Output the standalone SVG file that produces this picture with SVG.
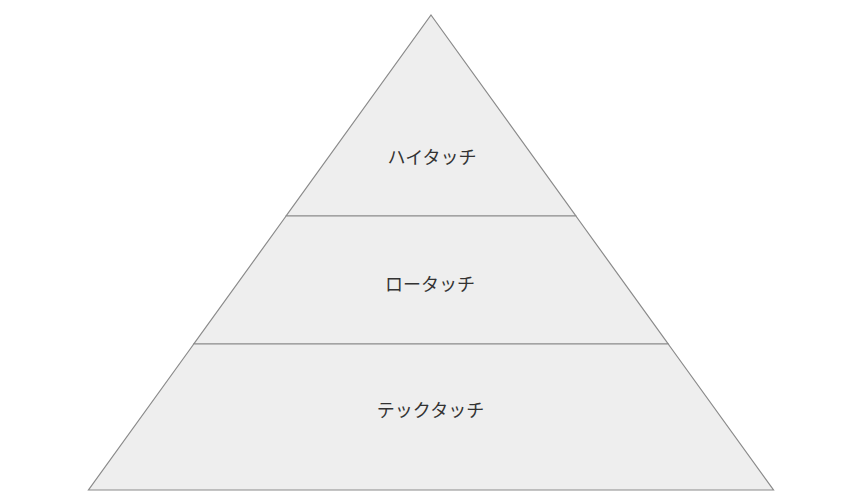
<svg xmlns="http://www.w3.org/2000/svg" width="855" height="502" viewBox="0 0 855 502">
<style>
.tier{fill:#eeeeee;stroke:#8a8a8a;stroke-width:1.2;stroke-linejoin:miter}
.lbl{font-family:"Noto Sans CJK JP","Noto Sans",sans-serif;font-size:18px;fill:#333333;text-anchor:middle}
</style>
<rect width="855" height="502" fill="#ffffff"/>
<g id="tier-high">
<polygon class="tier" points="431,15 575.9,216 286.1,216"/>
<text class="lbl" x="432" y="164">ハイタッチ</text>
</g>
<g id="tier-low">
<polygon class="tier" points="286.1,216 575.9,216 668.2,344 193.8,344"/>
<text class="lbl" x="430" y="290.5">ロータッチ</text>
</g>
<g id="tier-tech">
<polygon class="tier" points="193.8,344 668.2,344 773.5,490 88.5,490"/>
<text class="lbl" x="430.5" y="416.5">テックタッチ</text>
</g>
<g id="connectors"></g>
</svg>
